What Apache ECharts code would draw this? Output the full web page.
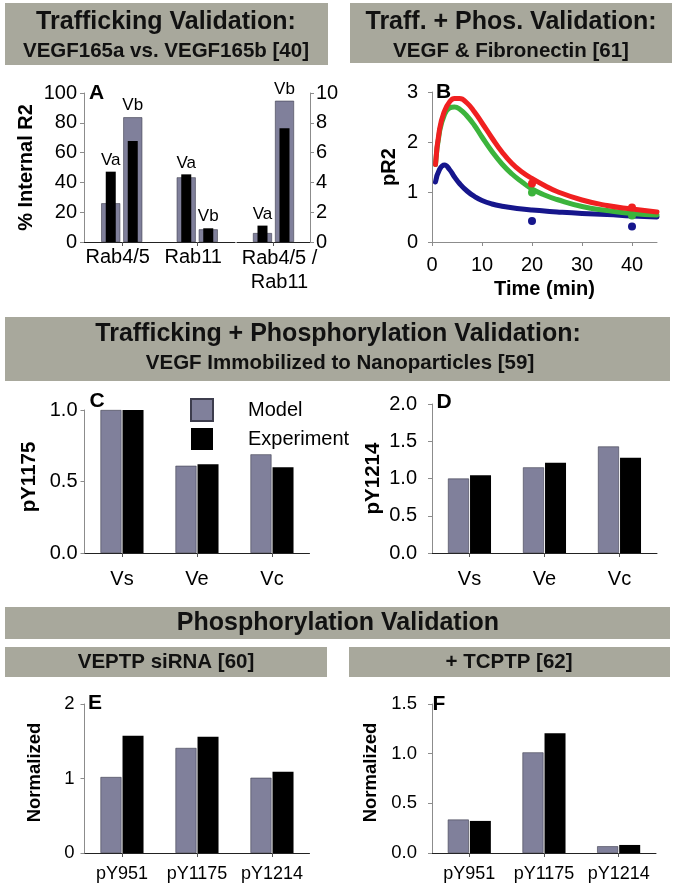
<!DOCTYPE html>
<html><head><meta charset="utf-8">
<script src="https://cdn.jsdelivr.net/npm/echarts@6/dist/echarts.min.js"></script>
<style>html,body{margin:0;padding:0;background:#fff}#c{width:675px;height:889px}</style>
</head><body><div id="c"></div>
<script>
// ---------- data ----------
const catsA = ['Rab4/5', 'Rab11'];
const catsA2 = ['Rab4/5 /\nRab11'];
const modelVaA = [26, 43.4];
const expVaA = [47.2, 45.4];
const modelVbA = [83.7, 8.5];
const expVbA = [67.8, 9.2];
const modelVaA2 = [0.6];
const expVaA2 = [1.1];
const modelVbA2 = [9.48];
const expVbA2 = [7.63];

const timeB = [0.7, 1.5, 2.5, 3.5, 4.5, 5.5, 7, 8.5, 10, 12, 14, 16, 18, 20, 22.5, 25, 30, 35, 40, 45];
const redB = [1.55, 2.25, 2.62, 2.8, 2.87, 2.87, 2.78, 2.6, 2.38, 2.08, 1.8, 1.57, 1.4, 1.27, 1.13, 1.01, 0.84, 0.73, 0.66, 0.6];
const greenB = [1.55, 2.2, 2.55, 2.68, 2.7, 2.66, 2.52, 2.33, 2.1, 1.81, 1.56, 1.36, 1.2, 1.06, 0.94, 0.85, 0.71, 0.63, 0.57, 0.54];
const blueB = [1.2, 1.45, 1.54, 1.45, 1.3, 1.17, 1.02, 0.91, 0.83, 0.76, 0.715, 0.685, 0.66, 0.64, 0.62, 0.6, 0.57, 0.55, 0.52, 0.5];
const dotTimeB = [20, 40];
const redDotB = [1.17, 0.69];
const greenDotB = [0.99, 0.53];
const blueDotB = [0.42, 0.31];

const catsCD = ['Vs', 'Ve', 'Vc'];
const modelC = [1.0, 0.61, 0.69];
const expC = [1.0, 0.62, 0.60];
const modelD = [1.0, 1.15, 1.43];
const expD = [1.045, 1.21, 1.28];

const catsEF = ['pY951', 'pY1175', 'pY1214'];
const modelE = [1.02, 1.41, 1.01];
const expE = [1.575, 1.56, 1.09];
const modelF = [0.337, 1.013, 0.068];
const expF = [0.323, 1.205, 0.081];

// ---------- style ----------
const FONT = "'Liberation Sans', Arial, Helvetica, sans-serif";
const GRAY = '#80809b';
const GRAY_BORDER = '#3d3d4d';
const BLACK = '#000000';
const AXGRAY = '#8c8c8c';
const HEADER = '#a8a89c';
const RED = '#f02020', GREEN = '#3cb43c', BLUE = '#16168c';

const chart = echarts.init(document.getElementById('c'), null, {renderer: 'canvas'});

function yAx(gridIndex, min, max, interval, extra) {
  return Object.assign({
    type: 'value', gridIndex, min, max, interval,
    axisLine: {show: true, lineStyle: {color: AXGRAY, width: 1}},
    axisTick: {show: true, length: 4, lineStyle: {color: AXGRAY}},
    splitLine: {show: false},
    axisLabel: {fontSize: 20, color: '#000', fontFamily: FONT, margin: 7},
    nameLocation: 'middle', nameRotate: 90,
    nameTextStyle: {fontSize: 20, fontWeight: 'bold', color: '#000', fontFamily: FONT}
  }, extra || {});
}
function xCat(gridIndex, data, extra, hidden) {
  if (hidden) return {type: 'category', gridIndex, data, show: false};
  return Object.assign({
    type: 'category', gridIndex, data,
    axisLine: {show: true, lineStyle: {color: '#222', width: 1}},
    axisTick: {show: true, alignWithLabel: true, length: 4, lineStyle: {color: '#555'}},
    axisLabel: {fontSize: 20, color: '#000', fontFamily: FONT, margin: 14, interval: 0, lineHeight: 24}
  }, extra || {});
}
const vaLabel = {position: 'top', distance: 3, fontSize: 17, color: '#000', fontFamily: FONT};
function labeled(vals, others, text, isModel) {
  return vals.map((v, i) => ({
    value: v,
    label: Object.assign({}, vaLabel, {show: isModel ? v >= others[i] : v > others[i], formatter: text})
  }));
}
function grayBar(name, x, y, data, width, gap) {
  const s = {type: 'bar', name, xAxisIndex: x, yAxisIndex: y, data, barWidth: width,
    itemStyle: {color: GRAY, borderColor: GRAY_BORDER, borderWidth: 0.6}, z: 2, animation: false};
  if (gap) s.barGap = gap;
  return s;
}
function blackBar(name, x, y, data, width, gap) {
  const s = {type: 'bar', name, xAxisIndex: x, yAxisIndex: y, data, barWidth: width,
    itemStyle: {color: BLACK}, z: 3, animation: false};
  if (gap) s.barGap = gap;
  return s;
}
function pairs(t, v) { return t.map((x, i) => [x, v[i]]); }

function hText(x, y, text, size) {
  return {type: 'text', x, y, z: 10, style: {text, fill: '#111', fontSize: size, fontWeight: 'bold', fontFamily: FONT,
    align: 'center', verticalAlign: 'middle', textAlign: 'center', textVerticalAlign: 'middle'}};
}
function box(x, y, w, h) {
  return {type: 'rect', z: 1, shape: {x, y, width: w, height: h}, style: {fill: HEADER}};
}
function letter(x, y, t) {
  return {type: 'text', x, y, z: 10, style: {text: t, fill: '#000', fontSize: 21, fontWeight: 'bold', fontFamily: FONT,
    align: 'center', verticalAlign: 'middle', textAlign: 'center', textVerticalAlign: 'middle'}};
}
function curve(name, data, color, z) {
  return {type: 'line', name, xAxisIndex: 4, yAxisIndex: 2, data, smooth: 0.5,
    showSymbol: false, symbol: 'none', lineStyle: {color, width: 5, cap: 'round', join: 'round'},
    itemStyle: {color}, z};
}
function dots(name, data, color) {
  return {type: 'scatter', name, xAxisIndex: 4, yAxisIndex: 2, data, symbolSize: 8,
    itemStyle: {color, opacity: 1}, z: 5};
}

const option = {
  backgroundColor: '#ffffff',
  animation: false,
  textStyle: {fontFamily: FONT},
  grid: [
    {left: 84, top: 93, width: 151, height: 149},
    {left: 237, top: 93, width: 73, height: 149},
    {left: 432, top: 92, width: 225, height: 150},
    {left: 84.5, top: 410, width: 225, height: 143},
    {left: 432, top: 404, width: 225, height: 149},
    {left: 84.5, top: 704, width: 225, height: 149},
    {left: 432, top: 704, width: 224, height: 149}
  ],
  legend: {
    left: 185, top: 393, orient: 'vertical', itemWidth: 22, itemHeight: 22, itemGap: 6,
    selectedMode: false, icon: 'rect',
    data: ['Model', 'Experiment'],
    textStyle: {fontSize: 20, color: '#000', fontFamily: FONT, padding: [0, 0, 0, 30]}
  },
  xAxis: [
    xCat(0, catsA, {axisLabel: {fontSize: 20, color: '#000', fontFamily: FONT, margin: 5, interval: 0, padding: [0, 8, 0, 0]}}),
    xCat(0, catsA, null, true),
    xCat(1, catsA2, {axisLabel: {fontSize: 20, color: '#000', fontFamily: FONT, margin: 4, interval: 0, lineHeight: 24, padding: [0, 0, 0, 12]}}),
    xCat(1, catsA2, null, true),
    {type: 'value', gridIndex: 2, min: 0, max: 45, interval: 10,
      axisLine: {show: true, onZero: false, lineStyle: {color: AXGRAY}},
      axisTick: {show: true, length: 4, lineStyle: {color: AXGRAY}},
      splitLine: {show: false},
      axisLabel: {fontSize: 20, color: '#000', fontFamily: FONT, margin: 13, showMaxLabel: false,
        formatter: v => (v > 40 ? '' : String(v))},
      name: 'Time (min)', nameLocation: 'middle', nameGap: 37,
      nameTextStyle: {fontSize: 20, fontWeight: 'bold', color: '#000', fontFamily: FONT}},
    xCat(3, catsCD),
    xCat(4, catsCD),
    xCat(5, catsEF, {axisLabel: {fontSize: 18, color: '#000', fontFamily: FONT, margin: 12, interval: 0}}),
    xCat(6, catsEF, {axisLabel: {fontSize: 18, color: '#000', fontFamily: FONT, margin: 12, interval: 0}})
  ],
  yAxis: [
    yAx(0, 0, 100, 20, {name: '% Internal R2', nameGap: 48}),
    yAx(1, 0, 10, 2, {position: 'right', axisLabel: {fontSize: 20, color: '#000', fontFamily: FONT, margin: 6}}),
    yAx(2, 0, 3, 1, {name: 'pR2', nameGap: 33, axisLabel: {fontSize: 20, color: '#000', fontFamily: FONT, margin: 14}}),
    yAx(3, 0, 1, 0.5, {name: 'pY1175', nameGap: 45,
      nameTextStyle: {fontSize: 20.5, fontWeight: 'bold', color: '#000', fontFamily: FONT, padding: [0, 0, 0, 9]},
      axisLabel: {fontSize: 20, color: '#000', fontFamily: FONT, margin: 7, formatter: v => v.toFixed(1)}}),
    yAx(4, 0, 2, 0.5, {name: 'pY1214', nameGap: 48,
      nameTextStyle: {fontSize: 20.5, fontWeight: 'bold', color: '#000', fontFamily: FONT},
      axisLabel: {fontSize: 20, color: '#000', fontFamily: FONT, margin: 15, formatter: v => v.toFixed(1)}}),
    yAx(5, 0, 2, 1, {name: 'Normalized', nameGap: 40,
      nameTextStyle: {fontSize: 18.5, fontWeight: 'bold', color: '#000', fontFamily: FONT, padding: [0, 0, 0, 12]},
      axisLabel: {fontSize: 18.5, color: '#000', fontFamily: FONT, margin: 10}}),
    yAx(6, 0, 1.5, 0.5, {name: 'Normalized', nameGap: 52,
      nameTextStyle: {fontSize: 18.5, fontWeight: 'bold', color: '#000', fontFamily: FONT, padding: [0, 0, 0, 12]},
      axisLabel: {fontSize: 18.5, color: '#000', fontFamily: FONT, margin: 15, formatter: v => v.toFixed(1)}})
  ],
  series: [
    // Panel A (left)
    grayBar('Va', 0, 0, labeled(modelVaA, expVaA, 'Va', true), 19),
    grayBar('Vb', 0, 0, labeled(modelVbA, expVbA, 'Vb', true), 19, '16%'),
    blackBar('Va', 1, 0, labeled(expVaA, modelVaA, 'Va', false), 10),
    blackBar('Vb', 1, 0, labeled(expVbA, modelVbA, 'Vb', false), 10, '120%'),
    // Panel A (right)
    grayBar('Va', 2, 1, labeled(modelVaA2, expVaA2, 'Va', true), 19),
    grayBar('Vb', 2, 1, labeled(modelVbA2, expVbA2, 'Vb', true), 19, '16%'),
    blackBar('Va', 3, 1, labeled(expVaA2, modelVaA2, 'Va', false), 10),
    blackBar('Vb', 3, 1, labeled(expVbA2, modelVbA2, 'Vb', false), 10, '120%'),
    // Panel B
    curve('blue', pairs(timeB, blueB), BLUE, 2),
    curve('green', pairs(timeB, greenB), GREEN, 3),
    curve('red', pairs(timeB, redB), RED, 4),
    dots('blueDots', pairs(dotTimeB, blueDotB), BLUE),
    dots('greenDots', pairs(dotTimeB, greenDotB), GREEN),
    dots('redDots', pairs(dotTimeB, redDotB), RED),
    // Panel C
    grayBar('Model', 5, 3, modelC, 21),
    blackBar('Experiment', 5, 3, expC, 21, '5%'),
    // Panel D
    grayBar('Model', 6, 4, modelD, 21),
    blackBar('Experiment', 6, 4, expD, 21, '5%'),
    // Panel E
    grayBar('Model', 7, 5, modelE, 21),
    blackBar('Experiment', 7, 5, expE, 21, '5%'),
    // Panel F
    grayBar('Model', 8, 6, modelF, 21),
    blackBar('Experiment', 8, 6, expF, 21, '5%')
  ],
  graphic: [
    box(5, 3, 323, 62),
    hText(166, 22, 'Trafficking Validation:', 25),
    hText(166, 51, 'VEGF165a vs. VEGF165b [40]', 20.5),
    box(350, 3, 322, 60),
    hText(511, 22, 'Traff. + Phos. Validation:', 25),
    hText(511, 51, 'VEGF & Fibronectin [61]', 20.5),
    box(5, 317, 665, 64),
    hText(338, 334, 'Trafficking + Phosphorylation Validation:', 25),
    hText(340, 363, 'VEGF Immobilized to Nanoparticles [59]', 20.5),
    box(5, 607, 665, 32),
    hText(338, 623, 'Phosphorylation Validation', 25),
    box(5, 647, 322, 30),
    hText(166, 662, 'VEPTP siRNA [60]', 20.5),
    box(349, 647, 321, 30),
    hText(509, 662, '+ TCPTP [62]', 20.5),
    letter(96.5, 93, 'A'),
    letter(443.5, 92, 'B'),
    letter(97, 401.5, 'C'),
    letter(444, 402, 'D'),
    letter(95, 703, 'E'),
    letter(439, 704, 'F')
  ]
};
chart.setOption(option);
</script></body></html>
